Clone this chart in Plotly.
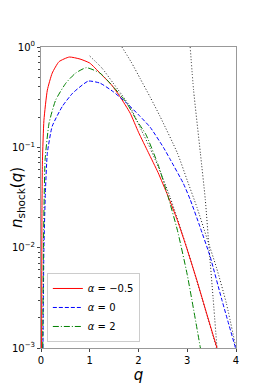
import plotly.graph_objects as go

# --- data (q, log10 n) ---
q_red = [0.012, 0.02, 0.03, 0.06, 0.13, 0.23, 0.37, 0.58, 0.8, 1.0, 1.21, 1.45, 1.62, 1.83, 2.0, 2.2, 2.4, 2.6, 2.8, 3.0, 3.2, 3.4, 3.61]
lg_red = [-3.0, -1.6, -1.13, -0.73, -0.43, -0.26, -0.146, -0.10, -0.12, -0.16, -0.26, -0.38, -0.495, -0.66, -0.85, -1.05, -1.25, -1.48, -1.73, -2.02, -2.33, -2.66, -3.0]

q_blue = [0.04, 0.06, 0.09, 0.13, 0.23, 0.44, 0.65, 0.97, 1.21, 1.48, 1.76, 2.03, 2.24, 2.51, 2.65, 2.92, 3.06, 3.26, 3.47, 3.71, 3.99]
lg_blue = [-3.0, -2.0, -1.45, -1.06, -0.79, -0.59, -0.46, -0.34, -0.36, -0.445, -0.56, -0.69, -0.80, -1.0, -1.12, -1.36, -1.52, -1.79, -2.09, -2.52, -3.0]

q_green = [0.035, 0.05, 0.065, 0.085, 0.165, 0.30, 0.51, 0.71, 0.93, 1.21, 1.48, 1.76, 1.96, 2.15, 2.4, 2.6, 2.8, 3.0, 3.27]
lg_green = [-3.0, -2.0, -1.5, -1.12, -0.76, -0.53, -0.36, -0.26, -0.206, -0.26, -0.395, -0.56, -0.73, -0.87, -1.17, -1.48, -1.83, -2.27, -3.0]

q_dotA = [1.0, 1.25, 1.48, 1.82, 2.06, 2.24, 2.41, 2.65, 2.99, 3.3, 3.6]
lg_dotA = [-0.09, -0.21, -0.36, -0.59, -0.83, -1.01, -1.2, -1.5, -2.0, -2.5, -3.0]

q_dotB = [1.66, 1.85, 2.04, 2.24, 2.44, 2.8, 3.0, 3.2, 3.4, 3.6, 3.8, 4.0]
lg_dotB = [0.0, -0.15, -0.32, -0.5, -0.69, -1.06, -1.33, -1.6, -1.9, -2.2, -2.55, -3.0]

q_dotC = [3.06, 3.13, 3.27, 3.37, 3.45, 3.53, 3.61]
lg_dotC = [0.0, -0.43, -1.06, -1.52, -2.02, -2.5, -3.0]

labels = ["<i>α</i> = −0.5", "<i>α</i> = 0", "<i>α</i> = 2"]
x_ticks = [0, 1, 2, 3, 4]
y_ticks = [1, 0.1, 0.01, 0.001]
y_ticktext = ["10<sup>0</sup>", "10<sup>−1</sup>", "10<sup>−2</sup>", "10<sup>−3</sup>"]


def pw(vals):
    return [10 ** v for v in vals]


fig = go.Figure()
dot = "1px,2px"
for qq, ll in [(q_dotA, lg_dotA), (q_dotB, lg_dotB), (q_dotC, lg_dotC)]:
    fig.add_trace(go.Scatter(x=qq, y=pw(ll), mode="lines", showlegend=False,
                             line=dict(color="#222222", width=1, dash=dot, shape="spline", smoothing=0.6),
                             hoverinfo="skip"))

fig.add_trace(go.Scatter(x=q_red, y=pw(lg_red), mode="lines", name=labels[0],
                         line=dict(color="#ff0000", width=1, shape="spline", smoothing=0.5)))
fig.add_trace(go.Scatter(x=q_blue, y=pw(lg_blue), mode="lines", name=labels[1],
                         line=dict(color="#0000ff", width=1, dash="4px,2px", shape="spline", smoothing=0.5)))
fig.add_trace(go.Scatter(x=q_green, y=pw(lg_green), mode="lines", name=labels[2],
                         line=dict(color="#008000", width=1, dash="6px,2px,1px,2px", shape="spline", smoothing=0.5)))

minor_vals = [m * 10 ** e for e in (-3, -2, -1) for m in range(2, 10)]

# the page body has an 8px margin, so the figure is sized to fit the 262x392 window
fig.update_layout(
    width=254, height=384,
    margin=dict(l=33, r=26, t=39, b=44, autoexpand=False),
    paper_bgcolor="white", plot_bgcolor="white",
    font=dict(family="DejaVu Sans", size=10, color="black"),
    legend=dict(x=0.03, y=0.02, xanchor="left", yanchor="bottom",
                bgcolor="white", bordercolor="#cccccc", borderwidth=1,
                font=dict(size=10), tracegroupgap=0, itemwidth=30),
    xaxis=dict(range=[0, 4], tickvals=x_ticks, ticks="outside", ticklen=3,
               showline=True, mirror=True, linecolor="#999999", linewidth=1,
               showgrid=False, zeroline=False, automargin=False,
               title=dict(text="<i>q</i>", font=dict(size=15), standoff=2)),
    yaxis=dict(type="log", range=[-3, 0], tickmode="array", tickvals=y_ticks, ticktext=y_ticktext,
               ticks="outside", ticklen=3,
               minor=dict(tickvals=minor_vals, ticks="outside", ticklen=2, showgrid=False),
               showline=True, mirror=True, linecolor="#999999", linewidth=1,
               showgrid=False, zeroline=False, automargin=False,
               title=dict(text="<i>n</i><sub>shock</sub>(<i>q</i>)", font=dict(size=15), standoff=4)),
)

fig.write_html("out.html")
